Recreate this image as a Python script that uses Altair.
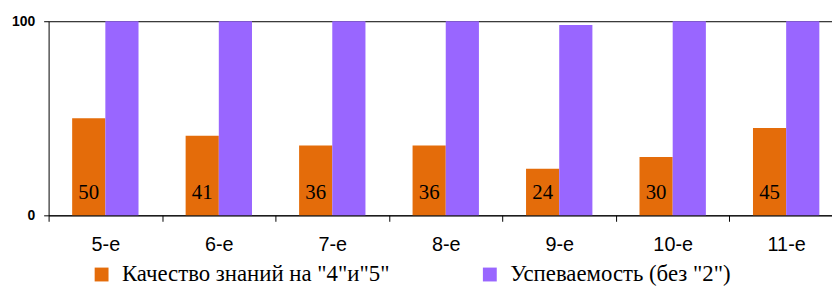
import altair as alt
import pandas as pd

classes = ["5-е", "6-е", "7-е", "8-е", "9-е", "10-е", "11-е"]
series = ['Качество знаний на "4"и"5"', 'Успеваемость (без "2")']
quality = [50, 41, 36, 36, 24, 30, 45]
progress = [100, 100, 100, 100, 98, 100, 100]
colors = ["#E46C0A", "#9966FF"]
title_text = "Успеваемость в 5-11 классах"

SERIF = "Times New Roman, Liberation Serif, serif"
SANS = "Arial, Liberation Sans, sans-serif"

rows = []
for c, q, p in zip(classes, quality, progress):
    rows.append({"cls": c, "series": series[0], "value": q})
    rows.append({"cls": c, "series": series[1], "value": p})
df = pd.DataFrame(rows)

x_enc = alt.X(
    "cls:N", sort=classes, title=None,
    scale=alt.Scale(range=[0, 802], paddingInner=0, paddingOuter=0),
    axis=alt.Axis(
        labelAngle=0, labelFont=SANS, labelFontSize=20,
        labelColor="black", domainColor="black", tickColor="black",
        tickSize=6, tickBand="extent", labelPadding=13,
    ),
)
xo_enc = alt.XOffset("series:N", sort=series,
                     scale=alt.Scale(paddingInner=0, paddingOuter=0.71))
y_scale = alt.Scale(domain=[0, 100], nice=False)

bars = alt.Chart(df).mark_bar().encode(
    x=x_enc,
    xOffset=xo_enc,
    y=alt.Y("value:Q", scale=y_scale, title=None,
            axis=alt.Axis(values=[0, 100], grid=True, gridColor="black",
                          gridOpacity=1, domainColor="black", tickColor="black",
                          tickSize=5, labelFont=SANS,
                          labelFontWeight="bold", labelFontSize=14,
                          labelColor="black", labelPadding=9)),
    color=alt.Color("series:N", sort=series,
                    scale=alt.Scale(domain=series, range=colors),
                    legend=alt.Legend(
                        orient="none", legendX=42, legendY=244,
                        direction="horizontal", title=None,
                        symbolType="square", symbolSize=196,
                        symbolStrokeWidth=0, symbolOpacity=1,
                        labelFont=SERIF, labelFontSize=23,
                        labelColor="black", columnPadding=89,
                        labelOffset=9, labelLimit=0)),
)

labels = alt.Chart(df).transform_filter(
    alt.datum.series == series[0]
).mark_text(
    dy=-22, baseline="middle", align="center",
    font=SERIF, fontSize=21, color="black",
).encode(
    x=alt.X("cls:N", sort=classes),
    xOffset=alt.XOffset("series:N", sort=series),
    y=alt.datum(0),
    text=alt.Text("value:Q"),
)

chart = alt.layer(bars, labels).properties(
    width=791, height=196,
    title=alt.TitleParams(title_text, font=SERIF, fontSize=24,
                          fontWeight="normal", color="black", offset=6,
                          baseline="alphabetic"),
    autosize=alt.AutoSizeParams(type="none"),
    padding={"left": 41, "top": 12, "right": 0, "bottom": 71},
).configure_view(strokeWidth=0)

chart.save("out.html", embed_options={"renderer": "svg", "actions": False})
